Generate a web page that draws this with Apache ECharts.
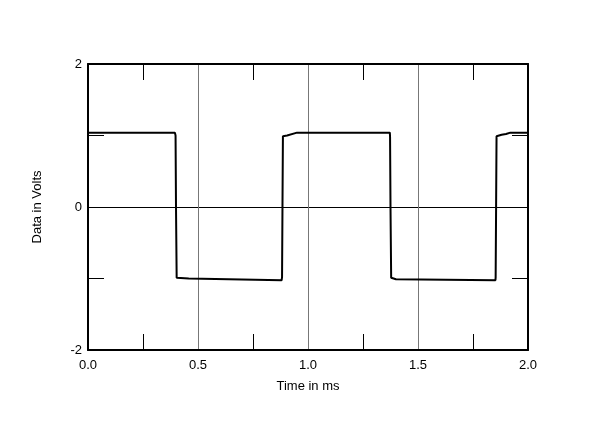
<!DOCTYPE html>
<html>
<head>
<meta charset="utf-8">
<script src="https://cdn.jsdelivr.net/npm/echarts@6/dist/echarts.min.js"></script>
<style>
  html, body { margin: 0; padding: 0; background: #fff; }
  #chart { width: 600px; height: 422px; }
</style>
</head>
<body>
<div id="chart"></div>
<script>
// waveform samples (time in ms, volts)
const timeMs = [
  0, 0.395, 0.398, 0.400, 0.403, 0.410, 0.458, 0.460, 0.880,
  0.882, 0.884, 0.886, 0.905, 0.910, 0.950, 1.372,
  1.373, 1.375, 1.378, 1.385, 1.400, 1.405, 1.852,
  1.853, 1.855, 1.857, 1.880, 1.900, 1.920, 2.0
]
const volts = [
  1.04, 1.04, 1.00, 0, -0.99, -1.0, -1.0, -1.025, -1.025,
  -0.98, 0, 0.99, 1.00, 1.02, 1.04, 1.04,
  0.98, 0, -0.99, -1.0, -1.01, -1.025, -1.025,
  -0.98, 0, 0.99, 1.01, 1.02, 1.04, 1.04
]
const xTicks = [0, 0.5, 1.0, 1.5, 2.0]
const yTicks = [-2, 0, 2]

const chart = echarts.init(document.getElementById('chart'))

const font = 'Liberation Sans, Arial, sans-serif'
const frame = { show: true, onZero: false, lineStyle: { color: '#000', width: 2 } }
const noTick = { show: false, inside: true }
const minor = { show: true, splitNumber: 2, length: 16, lineStyle: { color: '#000', width: 1 } }

chart.setOption({
  animation: false,
  backgroundColor: '#fff',
  grid: { left: 88, right: 72, top: 64, bottom: 72 },
  xAxis: [
    {
      type: 'value', min: 0, max: 2, interval: 0.5,
      axisLine: frame,
      axisTick: noTick,
      minorTick: minor,
      axisLabel: {
        color: '#000', fontSize: 13, fontFamily: font, margin: 9,
        formatter: v => xTicks.includes(v) ? v.toFixed(1) : ''
      },
      splitLine: { show: true, lineStyle: { color: '#777', width: 1 } },
      name: 'Time in ms', nameLocation: 'middle', nameGap: 30,
      nameTextStyle: { color: '#000', fontSize: 13, fontFamily: font }
    },
    {
      type: 'value', position: 'top', min: 0, max: 2, interval: 0.5,
      axisLine: frame, axisTick: noTick, minorTick: minor,
      axisLabel: { show: false }, splitLine: { show: false }
    }
  ],
  yAxis: [
    {
      type: 'value', min: -2, max: 2, interval: 2,
      axisLine: frame,
      axisTick: noTick,
      minorTick: minor,
      axisLabel: {
        color: '#000', fontSize: 13, fontFamily: font, margin: 6,
        formatter: v => yTicks.includes(v) ? String(v) : ''
      },
      splitLine: { show: true, lineStyle: { color: '#000', width: 1 } },
      name: 'Data in Volts', nameLocation: 'middle', nameGap: 44, nameRotate: 90,
      nameTextStyle: { color: '#000', fontSize: 13, fontFamily: font }
    },
    {
      type: 'value', position: 'right', min: -2, max: 2, interval: 2,
      axisLine: frame, axisTick: noTick, minorTick: minor,
      axisLabel: { show: false }, splitLine: { show: false }
    }
  ],
  series: [
    {
      type: 'line',
      data: timeMs.map((t, i) => [t, volts[i]]),
      showSymbol: false,
      lineStyle: { color: '#000', width: 2 },
      z: 5
    }
  ]
})
</script>
</body>
</html>
